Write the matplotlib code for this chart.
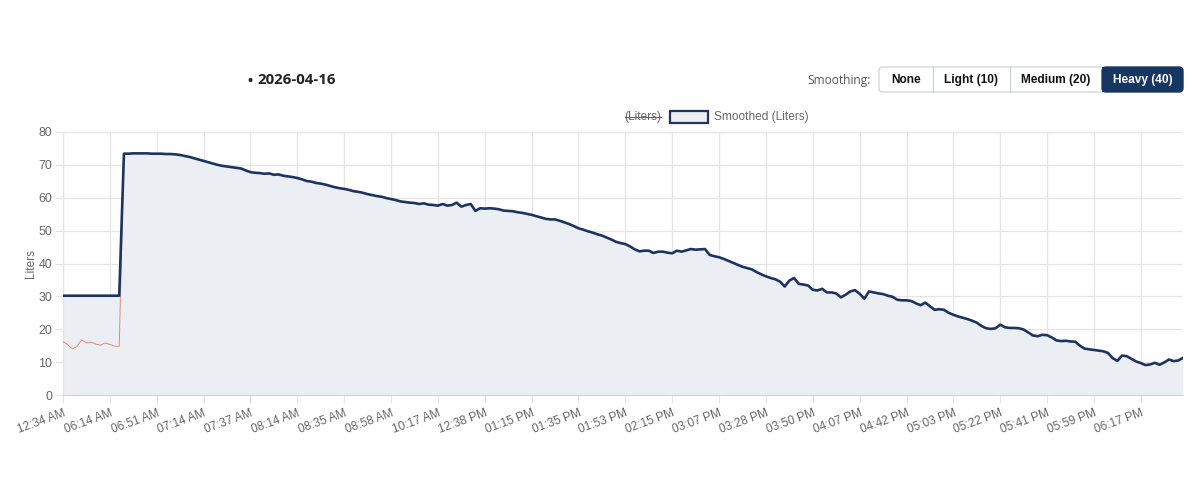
import matplotlib
matplotlib.use("Agg")
import matplotlib.pyplot as plt
from matplotlib.patches import FancyBboxPatch, Rectangle

# ---------------- data ----------------
tick_labels = ["12:34 AM", "06:14 AM", "06:51 AM", "07:14 AM", "07:37 AM", "08:14 AM",
               "08:35 AM", "08:58 AM", "10:17 AM", "12:38 PM", "01:15 PM", "01:35 PM",
               "01:53 PM", "02:15 PM", "03:07 PM", "03:28 PM", "03:50 PM", "04:07 PM",
               "04:42 PM", "05:03 PM", "05:22 PM", "05:41 PM", "05:59 PM", "06:17 PM"]

smoothed_liters = [
    30.2, 30.2, 30.2, 30.2, 30.2, 30.2, 30.2, 30.2, 30.2, 30.2, 30.2, 30.2, 30.2,
    73.4, 73.4, 73.5, 73.5, 73.5, 73.5, 73.4, 73.4, 73.4, 73.3, 73.3, 73.2,
    73.0, 72.7, 72.4, 72.0, 71.6,
    71.2, 70.8, 70.4, 70.0, 69.7, 69.5, 69.3, 69.1, 68.9, 68.3,
    67.8, 67.6, 67.5, 67.3, 67.4, 67.0, 67.1, 66.7, 66.5, 66.3,
    66.0, 65.6, 65.1, 64.9, 64.5, 64.3, 64.0, 63.6, 63.2, 62.9,
    62.7, 62.4, 62.0, 61.8, 61.5, 61.1, 60.8, 60.5, 60.3, 59.9,
    59.6, 59.3, 58.9, 58.7, 58.5, 58.4, 58.1, 58.3, 57.9, 57.8,
    57.6, 58.1, 57.6, 57.8, 58.5, 57.3, 57.8, 58.1, 56.0, 56.8,
    56.7, 56.8, 56.7, 56.5, 56.1, 56.0, 55.9, 55.6, 55.4, 55.1,
    54.8, 54.4, 54.0, 53.6, 53.4, 53.4, 53.0, 52.5, 52.0, 51.4,
    50.7, 50.3, 49.8, 49.4, 48.9, 48.5, 47.9, 47.3, 46.6, 46.2,
    45.9, 45.2, 44.3, 43.7, 43.9, 43.9, 43.2, 43.6, 43.6, 43.3,
    43.1, 43.9, 43.6, 44.0, 44.4, 44.2, 44.3, 44.4, 42.6, 42.2,
    41.9, 41.4, 40.8, 40.2, 39.6, 39.0, 38.6, 38.2, 37.4, 36.7,
    36.1, 35.6, 35.2, 34.5, 33.0, 34.8, 35.6, 33.8, 33.6, 33.3,
    32.0, 31.8, 32.3, 31.2, 31.2, 30.9, 29.7, 30.5, 31.5, 31.9,
    30.8, 29.3, 31.5, 31.2, 30.9, 30.7, 30.2, 29.9, 29.0, 28.8,
    28.8, 28.6, 27.9, 27.3, 28.1, 27.0, 25.9, 26.1, 25.9, 25.0,
    24.4, 23.9, 23.5, 23.1, 22.6, 22.0, 21.0, 20.3, 20.1, 20.3,
    21.4, 20.6, 20.4, 20.4, 20.3, 19.9, 19.0, 18.1, 17.9, 18.3,
    18.2, 17.5, 16.6, 16.4, 16.5, 16.3, 16.2, 15.0, 14.1, 13.9,
    13.7, 13.5, 13.3, 12.8, 11.2, 10.4, 12.0, 11.8, 11.0, 10.2,
    9.7, 9.1, 9.3, 9.8, 9.2, 9.9, 10.8, 10.3, 10.5, 11.3,
]

# raw readings before the refill (the rest lies under the smoothed line)
raw_liters_head = [16.2, 15.3, 14.0, 14.8, 16.8, 15.8, 16.1, 15.5, 15.2, 15.8, 15.4, 14.9, 14.8]

label_step = 10
y_ticks = [0, 10, 20, 30, 40, 50, 60, 70, 80]

date_title = "2026-04-16"
smoothing_options = ["None", "Light (10)", "Medium (20)", "Heavy (40)"]

# ---------------- style ----------------
NAVY = "#1d3461"
FILL = "#ebeef2"
RED = "#e8877e"
GRID = "#e5e5e5"
TXT = "#666666"
FONT = "Liberation Sans"
HEAD = ["Open Sans", "DejaVu Sans"]

W, H = 1200, 503
fig = plt.figure(figsize=(W / 100, H / 100), dpi=100)

# main plot area in pixel coordinates
px_left, px_right, px_top, px_bottom = 63, 1183, 132, 395
ax = fig.add_axes([px_left / W, (H - px_bottom) / H,
                   (px_right - px_left) / W, (px_bottom - px_top) / H])

n = len(smoothed_liters)
idx = list(range(n))
raw_liters = raw_liters_head + smoothed_liters[len(raw_liters_head):]

ax.fill_between(idx, smoothed_liters, 0, color=FILL, linewidth=0, zorder=1)
ax.plot(idx, raw_liters, color=RED, linewidth=0.7, zorder=3)
ax.plot(idx, smoothed_liters, color=NAVY, linewidth=1.9, zorder=4,
        solid_joinstyle="round")

ax.set_xlim(0, n - 1)
ax.set_ylim(0, 80)
tick_pos = [i * label_step for i in range(len(tick_labels))]
ax.set_xticks(tick_pos)
ax.set_xticklabels(tick_labels, rotation=20, ha="right", va="top",
                   rotation_mode="anchor", fontsize=8.6, color=TXT, family=FONT)
ax.set_yticks(y_ticks)
ax.set_yticklabels([str(v) for v in y_ticks], fontsize=8.9, color=TXT, family=FONT)

ax.grid(True, color=GRID, linewidth=0.9, zorder=0)
ax.set_axisbelow(True)
ax.tick_params(axis="both", length=6, width=0.9, color=GRID, pad=2)
ax.tick_params(axis="x", pad=3)
for s in ["top", "right"]:
    ax.spines[s].set_visible(False)
ax.spines["left"].set_color(GRID)
ax.spines["bottom"].set_color("#d0d4da")
ax.spines["left"].set_linewidth(0.9)
ax.spines["bottom"].set_linewidth(0.9)

# overlay in pixel coordinates for header, legend, y label
ov = fig.add_axes([0, 0, 1, 1], zorder=10)
ov.set_xlim(0, W)
ov.set_ylim(H, 0)
ov.axis("off")
ov.patch.set_alpha(0)

ov.text(31, 263, "Liters", rotation=90, ha="center", va="center",
        fontsize=8.6, color=TXT, family=FONT)

# title
ov.text(250, 80.5, "\u2022", ha="center", va="center", fontsize=10, color="#222222",
        family=HEAD, weight="bold")
ov.text(257, 80, date_title, ha="left", va="center", fontsize=10.8, color="#222222",
        family=HEAD, weight="bold")

# smoothing buttons
ov.text(871, 80, "Smoothing:", ha="right", va="center", fontsize=8.6,
        color="#555555", family=HEAD)
bx0, bx1, by0, by1 = 879, 1183, 67, 92
edges = [bx0, 933, 1010, 1102, bx1]
ov.add_patch(FancyBboxPatch((bx0, by0), bx1 - bx0, by1 - by0,
                            boxstyle="round,pad=0,rounding_size=4",
                            facecolor="white", edgecolor="#cfd3d8", linewidth=0.9))
ov.add_patch(FancyBboxPatch((edges[3], by0), bx1 - edges[3], by1 - by0,
                            boxstyle="round,pad=0,rounding_size=4",
                            facecolor="#173763", edgecolor="#173763", linewidth=0.9))
ov.add_patch(Rectangle((edges[3], by0), 6, by1 - by0, facecolor="#173763",
                       edgecolor="none"))
for e in edges[1:3]:
    ov.plot([e, e], [by0, by1], color="#cfd3d8", linewidth=0.9)
for i, lab in enumerate(smoothing_options):
    cx = (edges[i] + edges[i + 1]) / 2
    col = "white" if i == 3 else "#111111"
    ov.text(cx, 80, lab, ha="center", va="center", fontsize=8.6, color=col,
            family=FONT, weight="bold")

# legend
ov.text(643, 117, "(Liters)", ha="center", va="center", fontsize=8.6, color=TXT,
        family=FONT)
ov.plot([625, 661], [117, 117], color=TXT, linewidth=0.8)
ov.add_patch(Rectangle((670, 111), 38, 12, facecolor=FILL, edgecolor=NAVY,
                       linewidth=1.6))
ov.text(714, 117, "Smoothed (Liters)", ha="left", va="center", fontsize=8.6,
        color=TXT, family=FONT)

fig.savefig("out.png", dpi=100)
